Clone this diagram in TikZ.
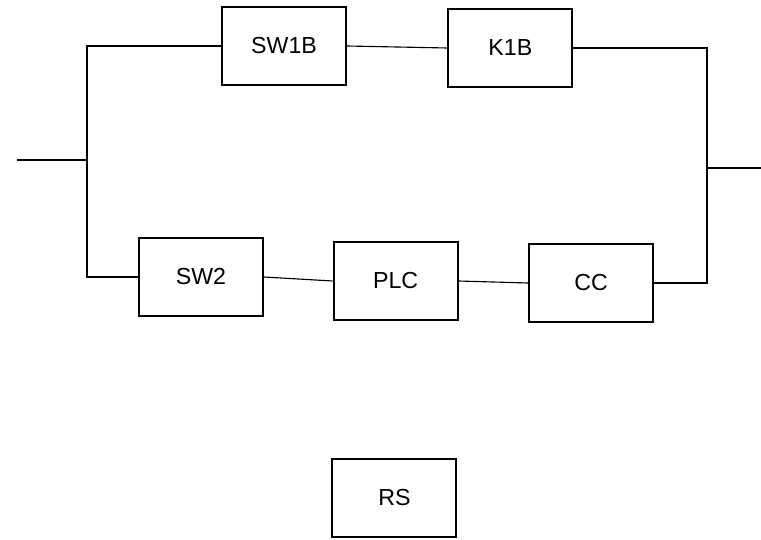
\documentclass[tikz,border=0pt]{standalone}
\usepackage{fontspec}
\setmainfont{Liberation Sans}
\begin{document}
\begin{tikzpicture}[blk/.style={draw, line width=1.3pt, minimum width=3.1cm, minimum height=1.95cm, inner sep=0pt, font=\fontsize{16.5}{19}\selectfont},
    wire/.style={line width=0.8pt}]

    \useasboundingbox (0,0) rectangle (19.025,13.475);

    % blocks
    \node[blk] (sw1b) at (7.1,12.325) {SW1B};
    \node[blk] (k1b) at (12.76,12.275) {K1B};
    \node[blk] (sw2) at (5.025,6.55) {SW2};
    \node[blk] (plc) at (9.89,6.45) {PLC};
    \node[blk] (cc) at (14.775,6.4) {CC};
    \node[blk] (rs) at (9.86,1.025) {RS};

    % junctions and terminals
    \coordinate (in) at (0.425,9.475);
    \coordinate (jl) at (2.175,9.475);
    \coordinate (jr) at (17.675,9.275);
    \coordinate (out) at (19.025,9.275);

    % wiring
    \draw[wire] (in) -- (jl);
    \draw[wire] (sw1b.west) -| (jl) |- (sw2.west);
    \draw[wire] (sw1b.east) -- (k1b.west);
    \draw[wire] (sw2.east) -- (plc.west);
    \draw[wire] (plc.east) -- (cc.west);
    \draw[wire] (k1b.east) -| (jr) |- (cc.east);
    \draw[wire] (jr) -- (out);

\end{tikzpicture}
\end{document}
